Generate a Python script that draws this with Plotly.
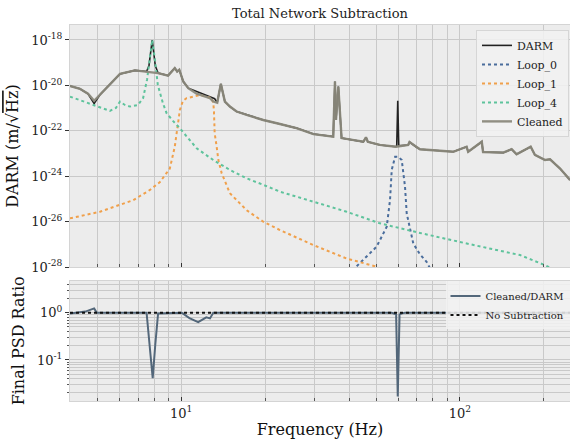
import numpy as np
import plotly.graph_objects as go
from plotly.subplots import make_subplots

# ---------------- data ----------------
darm_f = [3.99, 4.33, 4.63, 4.87, 5.11, 5.55, 6.03, 6.82, 7.51, 7.66, 7.87, 8.07, 8.26, 8.97, 9.48,
          9.67, 9.84, 10.17, 10.60, 11.36, 12.68, 13.18, 13.46, 13.87, 14.34, 14.95, 15.80, 17.17,
          19.69, 22.6, 25.9, 29.8, 35.1, 35.6, 35.9, 36.6, 37.6, 45.0, 46.0, 46.7, 51.6, 58.9,
          59.3, 59.8, 60.3, 65.2, 65.9, 69.9, 71.8, 94.6, 105.6, 107.0, 119.7, 121.0, 143.0,
          153.2, 159.6, 179.3, 185.7, 201.8, 210.4, 228.5, 248.1]
darm_v = [9.5e-21, 7.1e-21, 4.3e-21, 1.6e-21, 3.9e-21, 1.17e-20, 3.2e-20, 4.6e-20, 4.1e-20, 7.4e-20,
          1.0e-18, 7.4e-20, 3.5e-20, 2.7e-20, 5.8e-20, 4.1e-20, 4.9e-20, 1.48e-20, 7.6e-21, 5.4e-21,
          3.2e-21, 2.6e-21, 1.74e-21, 1.17e-20, 1.95e-21, 1.17e-21, 7.1e-22, 5.0e-22, 3.0e-22,
          2.0e-22, 1.32e-22, 7.2e-23, 5.6e-23, 1.48e-20, 3.0e-22, 8.9e-21, 4.8e-23, 3.3e-23,
          5.2e-23, 3.3e-23, 2.4e-23, 2.0e-23, 2.2e-23, 2.1e-21, 2.2e-23, 2.4e-23, 3.2e-23,
          1.9e-23, 1.55e-23, 1.2e-23, 2.0e-23, 1.2e-23, 3.3e-23, 1.17e-23, 1.1e-23, 1.55e-23,
          9.3e-24, 2.0e-23, 8.7e-24, 5.2e-24, 5.6e-24, 2.2e-24, 6.9e-25]

clean_f = [3.99, 4.33, 4.63, 4.87, 5.11, 5.55, 6.03, 6.82, 7.51, 7.87, 8.26, 8.97, 9.48, 9.67, 9.84,
           10.17, 10.60, 11.36, 12.68, 13.03, 13.46, 13.87, 14.34, 14.95, 15.80, 17.17, 19.69,
           22.6, 25.9, 29.8, 35.1, 35.6, 35.9, 36.6, 37.6, 45.0, 46.0, 46.7, 51.6, 58.9, 65.2,
           65.9, 69.9, 71.8, 94.6, 105.6, 107.0, 119.7, 121.0, 143.0, 153.2, 159.6, 179.3, 185.7,
           201.8, 210.4, 228.5, 248.1]
clean_v = [9.5e-21, 7.1e-21, 4.3e-21, 2.1e-21, 3.9e-21, 1.17e-20, 3.2e-20, 4.6e-20, 4.1e-20,
           4.0e-20, 3.5e-20, 2.7e-20, 5.8e-20, 4.1e-20, 4.9e-20, 1.48e-20, 7.6e-21, 4.3e-21,
           2.75e-21, 1.95e-21, 1.74e-21, 1.17e-20, 1.95e-21, 1.17e-21, 7.1e-22, 5.0e-22, 3.0e-22,
           2.0e-22, 1.32e-22, 7.2e-23, 5.6e-23, 1.48e-20, 3.0e-22, 8.9e-21, 4.8e-23, 3.3e-23,
           5.2e-23, 3.3e-23, 2.4e-23, 2.0e-23, 2.4e-23, 3.2e-23, 1.9e-23, 1.55e-23, 1.2e-23,
           2.0e-23, 1.2e-23, 3.3e-23, 1.17e-23, 1.1e-23, 1.55e-23, 9.3e-24, 2.0e-23, 8.7e-24,
           5.2e-24, 5.6e-24, 2.2e-24, 6.9e-25]

loop0_f = [42.6, 50.2, 54.6, 56.1, 56.9, 58.5, 60.1, 61.8, 63.5, 64.4, 68.0, 71.8, 75.9, 78.0]
loop0_v = [1.1e-28, 7.9e-28, 6.0e-27, 8.9e-26, 1.9e-24, 7.2e-24, 7.2e-24, 5.2e-24, 3.5e-25,
           2.3e-26, 1.1e-27, 3.7e-28, 1.7e-28, 9.1e-29]

loop1_f = [3.99, 5.11, 6.73, 7.72, 8.39, 8.86, 9.10, 9.48, 9.73, 9.89, 10.14, 10.45, 11.04, 11.67,
           12.86, 13.03, 13.10, 13.18, 13.40, 13.59, 13.97, 14.95, 17.17, 19.69, 22.6, 29.8,
           39.2, 49.5, 51.0]
loop1_v = [1.4e-26, 2.75e-26, 8.9e-26, 2.5e-25, 5.6e-25, 1.35e-24, 2.2e-24, 2.0e-23, 1.8e-22,
           8.3e-22, 2.1e-21, 2.75e-21, 3.2e-21, 3.8e-21, 2.75e-21, 1.66e-21, 8.3e-22, 7.9e-23,
           2.0e-23, 5.2e-24, 1.35e-24, 1.78e-25, 3.2e-26, 1.0e-26, 4.3e-27, 9.3e-28, 2.4e-28,
           1.1e-28, 9.1e-29]

loop4_f = [3.99, 4.70, 5.55, 5.83, 6.03, 6.28, 6.55, 7.00, 7.30, 7.54, 7.72, 7.87, 8.05, 8.24,
           8.59, 8.86, 9.34, 9.89, 11.36, 13.03, 14.95, 17.17, 19.69, 22.6, 29.8, 39.2, 51.6,
           71.8, 108.6, 164.1, 201.8, 210.0]
loop4_v = [3.2e-21, 1.55e-21, 7.6e-22, 1.02e-21, 1.95e-21, 1.38e-21, 1.17e-21, 1.38e-21, 2.8e-21,
           1.78e-20, 2.2e-19, 1.0e-18, 1.35e-19, 1.05e-20, 1.7e-21, 6.0e-22, 2.75e-22, 1.29e-22,
           1.7e-23, 5.2e-24, 1.9e-24, 8.1e-25, 4.2e-25, 2.1e-25, 7.6e-26, 2.75e-26, 8.5e-27,
           3.2e-27, 1.02e-27, 3.4e-28, 1.23e-28, 9.5e-29]

ratio_f = [3.99, 4.53, 4.87, 4.98, 7.51, 7.67, 7.90, 8.07, 8.26, 10.04, 10.7, 11.5, 12.3, 12.68,
           12.85, 13.03, 56.9, 59.0, 59.8, 60.7, 62.0, 63.5, 248.1]
ratio_v = [0.97, 1.06, 1.24, 1.0, 1.0, 0.265, 0.041, 0.21, 0.97, 1.0, 0.77, 0.63, 0.80, 0.76,
           0.89, 1.0, 1.0, 0.925, 0.0168, 0.925, 0.97, 1.0, 1.0]

nosub_f = [3.99, 248.1]
nosub_v = [1.0, 1.0]

x_ticks = [10, 100]
x_ticktext = ["10<sup>1</sup>", "10<sup>2</sup>"]
x_minor = [5, 6, 7, 8, 9, 20, 30, 40, 50, 60, 70, 80, 90, 200]
y1_ticks = [1e-28, 1e-26, 1e-24, 1e-22, 1e-20, 1e-18]
y1_ticktext = ["10<sup>-28</sup>", "10<sup>-26</sup>", "10<sup>-24</sup>", "10<sup>-22</sup>",
               "10<sup>-20</sup>", "10<sup>-18</sup>"]
y2_ticks = [0.1, 1.0]
y2_ticktext = ["10<sup>-1</sup>", "10<sup>0</sup>"]
y2_minor = [0.02, 0.03, 0.04, 0.05, 0.06, 0.07, 0.08, 0.09, 0.2, 0.3, 0.4, 0.5, 0.6, 0.7, 0.8,
            0.9, 2, 3, 4]

# ---------------- styling ----------------
FONT = "DejaVu Serif"
BG = "#ececec"
GRID = "#c9c9c9"
C_DARM = "#222222"
C_L0 = "#4a6d9c"
C_L1 = "#f0a04b"
C_L4 = "#5ec39c"
C_CLEAN = "#8b897c"
C_RATIO = "#53677a"

fig = make_subplots(rows=2, cols=1, shared_xaxes=True, vertical_spacing=0.0)

fig.add_trace(go.Scatter(x=darm_f, y=darm_v, mode="lines", name="DARM",
                         line=dict(color=C_DARM, width=1.6), legend="legend"), row=1, col=1)
fig.add_trace(go.Scatter(x=loop0_f, y=loop0_v, mode="lines", name="Loop_0",
                         line=dict(color=C_L0, width=2, dash="dot"), legend="legend"), row=1, col=1)
fig.add_trace(go.Scatter(x=loop1_f, y=loop1_v, mode="lines", name="Loop_1",
                         line=dict(color=C_L1, width=2, dash="dot"), legend="legend"), row=1, col=1)
fig.add_trace(go.Scatter(x=loop4_f, y=loop4_v, mode="lines", name="Loop_4",
                         line=dict(color=C_L4, width=2, dash="dot"), legend="legend"), row=1, col=1)
fig.add_trace(go.Scatter(x=clean_f, y=clean_v, mode="lines", name="Cleaned",
                         line=dict(color=C_CLEAN, width=2.4), opacity=0.95, legend="legend"),
              row=1, col=1)

fig.add_trace(go.Scatter(x=ratio_f, y=ratio_v, mode="lines", name="Cleaned/DARM",
                         line=dict(color=C_RATIO, width=2), legend="legend2"), row=2, col=1)
fig.add_trace(go.Scatter(x=nosub_f, y=nosub_v, mode="lines", name="No Subtraction",
                         line=dict(color="#111111", width=2, dash="dot"), legend="legend2"),
              row=2, col=1)

axis_common = dict(showgrid=True, gridcolor=GRID, gridwidth=1.2, showline=True,
                   linecolor="#d4d4d4", linewidth=1, mirror=True, zeroline=False,
                   tickfont=dict(family=FONT, size=13, color="#222"))

xr = [np.log10(3.99), np.log10(248.1)]
fig.update_xaxes(type="log", range=xr, tickvals=x_ticks, ticktext=x_ticktext,
                 ticks="inside", ticklen=4, tickcolor="#333",
                 minor=dict(tickvals=x_minor, showgrid=True, gridcolor=GRID, gridwidth=1.2,
                            ticks="inside", ticklen=3, tickcolor="#555"),
                 **axis_common)
fig.update_xaxes(showticklabels=False, row=1, col=1)
fig.update_xaxes(title=dict(text="Frequency (Hz)", font=dict(family=FONT, size=16, color="#111"),
                            standoff=4), row=2, col=1)

fig.update_yaxes(type="log", range=[-28, -17.34], tickvals=y1_ticks, ticktext=y1_ticktext,
                 ticks="outside", ticklen=4, tickcolor="#333",
                 title=dict(text="DARM (m/√<span style='text-decoration:overline'>Hz</span>)",
                            font=dict(family=FONT, size=16, color="#111"), standoff=8),
                 domain=[0.356, 1.0], row=1, col=1, **axis_common)
fig.update_yaxes(type="log", range=[-1.87, 0.68], tickvals=y2_ticks, ticktext=y2_ticktext,
                 ticks="outside", ticklen=4, tickcolor="#333",
                 minor=dict(tickvals=y2_minor, showgrid=True, gridcolor=GRID, gridwidth=1,
                            ticks="outside", ticklen=2, tickcolor="#555"),
                 title=dict(text="Final PSD Ratio", font=dict(family=FONT, size=16, color="#111"),
                            standoff=8),
                 domain=[0.0, 0.320], row=2, col=1, **axis_common)

fig.update_layout(
    width=570, height=443,
    margin=dict(l=70, r=0, t=25, b=42),
    paper_bgcolor="white", plot_bgcolor=BG,
    font=dict(family=FONT, color="#222"),
    title=dict(text="Total Network Subtraction", x=0.5, xref="paper", xanchor="center",
               y=1 - 13 / 443, yanchor="middle", font=dict(family=FONT, size=13, color="#222")),
    legend=dict(x=0.998, y=0.987, xanchor="right", yanchor="top",
                bgcolor="rgba(242,242,242,0.85)", bordercolor="#d6d6d6", borderwidth=1,
                font=dict(family=FONT, size=11, color="#222"), itemwidth=30,
                tracegroupgap=0),
    legend2=dict(x=0.999, y=0.318, xanchor="right", yanchor="top",
                 bgcolor="rgba(242,242,242,0.85)", bordercolor="rgba(0,0,0,0)", borderwidth=0,
                 font=dict(family=FONT, size=10, color="#222"), itemwidth=30),
    showlegend=True,
)

fig.write_html("out.html", config={"displayModeBar": False},
               post_script="document.body.style.margin='0';document.body.style.overflow='hidden';")
